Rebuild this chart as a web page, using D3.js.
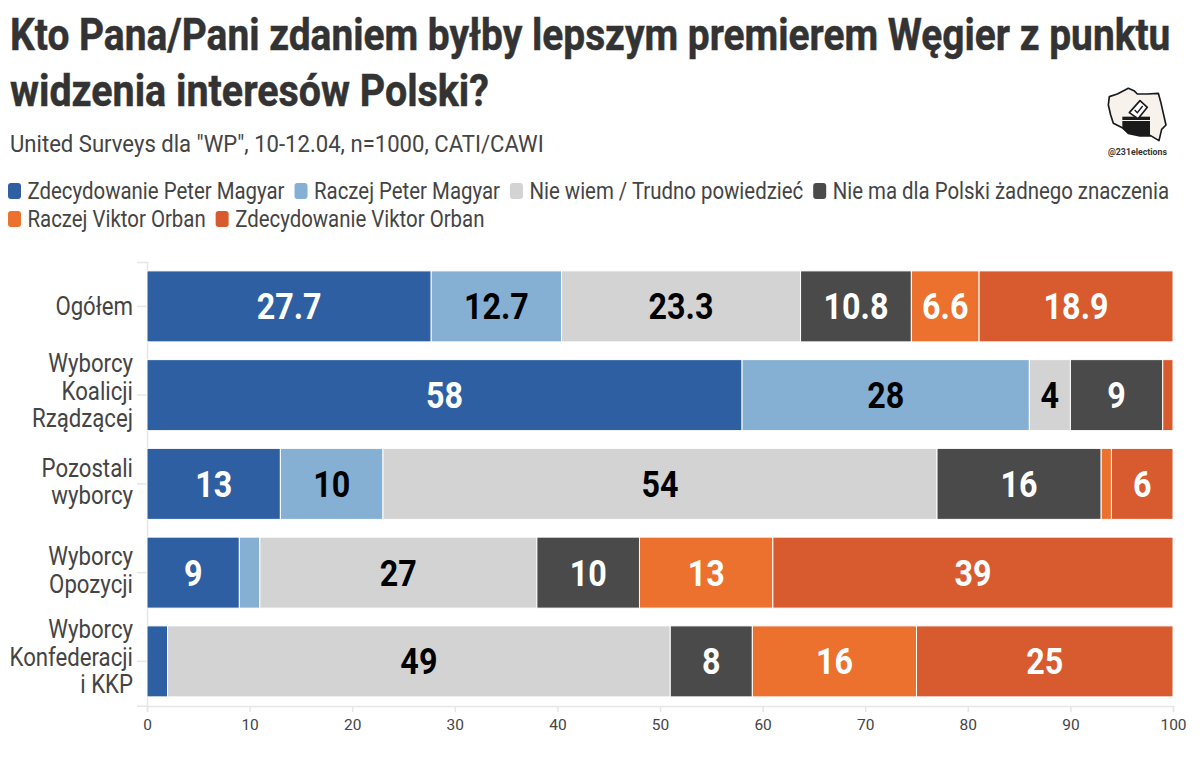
<!DOCTYPE html>
<html lang="pl"><head><meta charset="utf-8">
<script src="https://cdn.jsdelivr.net/npm/d3@7"></script>
<style>html,body{margin:0;background:#fff}svg{display:block}text{font-family:Roboto,sans-serif}</style>
</head><body><svg id="c" width="1200" height="763"></svg>
<script>
const titleLines = ["Kto Pana/Pani zdaniem byłby lepszym premierem Węgier z punktu","widzenia interesów Polski?"];
const subtitle = 'United Surveys dla "WP", 10-12.04, n=1000, CATI/CAWI';
const handle = "@231elections";
const seriesNames = ["Zdecydowanie Peter Magyar","Raczej Peter Magyar","Nie wiem / Trudno powiedzieć","Nie ma dla Polski żadnego znaczenia","Raczej Viktor Orban","Zdecydowanie Viktor Orban"];
const seriesColors = ["#2d5fa2","#85afd3","#d3d3d3","#4a4a4a","#ec702e","#d85a2f"];
const labelColors = ["#fff","#000","#000","#fff","#fff","#fff"];
const categories = ["Ogółem","Wyborcy Koalicji Rządzącej","Pozostali wyborcy","Wyborcy Opozycji","Wyborcy Konfederacji i KKP"];
const categoryLines = [["Ogółem"],["Wyborcy","Koalicji","Rządzącej"],["Pozostali","wyborcy"],["Wyborcy","Opozycji"],["Wyborcy","Konfederacji","i KKP"]];
const zdecMagyar = [27.7,58,13,9,2];
const raczejMagyar = [12.7,28,10,2,0];
const nieWiem = [23.3,4,54,27,49];
const bezZnaczenia = [10.8,9,16,10,8];
const raczejOrban = [6.6,0,1,13,16];
const zdecOrban = [18.9,1,6,39,25];
const xTicks = [0,10,20,30,40,50,60,70,80,90,100];
const minLabelled = 4;

const allSeries = [zdecMagyar,raczejMagyar,nieWiem,bezZnaczenia,raczejOrban,zdecOrban];
const rows = categories.map((c,i)=>{const r={cat:c};seriesNames.forEach((s,j)=>r[s]=allSeries[j][i]);return r;});
const svg = d3.select("#c");
const x = d3.scaleLinear().domain([0,100]).range([147,1173]);
const y = d3.scaleBand().domain(categories).range([262,705.75]).paddingInner(.2).paddingOuter(.1);
const stack = d3.stack().keys(seriesNames)(rows);

function squeezed(sel,k){
  sel.attr("transform",function(){
    const a=+this.getAttribute("data-x"),b=+this.getAttribute("data-y");
    return `translate(${a},${b}) scale(${k},1)`;
  });
}
function put(parent,str,px,py,size,weight,fill,anchor,k){
  const t=parent.append("text").text(str).attr("data-x",px).attr("data-y",py)
    .attr("font-size",size).attr("font-weight",weight).attr("fill",fill).attr("text-anchor",anchor||"start");
  squeezed(t,k); return t;
}
function fit(parent,str,px,py,size,weight,fill,width){
  const t=put(parent,str,px,py,size,weight,fill,"start",1);
  const w=t.node().getComputedTextLength();
  squeezed(t,width/w); return t;
}
fit(svg,titleLines[0],10,49.5,44,700,"#333",1161).attr("stroke","#333").attr("stroke-width",.5);
fit(svg,titleLines[1],10,105.5,44,700,"#333",479).attr("stroke","#333").attr("stroke-width",.5);
fit(svg,subtitle,10,152,24,400,"#444",534);

// legend flow
const legK=.85, legSize=24;
let lx=8, ly=199;
seriesNames.forEach((n,i)=>{
  const probe=put(svg,n,0,0,legSize,400,"#444","start",legK);
  const w=probe.node().getComputedTextLength()*legK;
  if(lx+19+w>1172){lx=8;ly+=28;}
  svg.append("rect").attr("x",lx).attr("y",ly-16).attr("width",13).attr("height",16).attr("rx",3).attr("fill",seriesColors[i]);
  probe.attr("data-x",lx+19.5).attr("data-y",ly); squeezed(probe,legK);
  lx+=19.5+w+10;
});

// axes
const xAxis = svg.append("g").attr("transform","translate(0,706)")
  .call(d3.axisBottom(x).tickValues(xTicks).tickSize(6).tickPadding(7));
xAxis.select(".domain").attr("stroke","#e6e6e6").attr("stroke-width",1.5);
xAxis.selectAll(".tick line").attr("stroke","#e6e6e6").attr("stroke-width",1.5);
xAxis.selectAll(".tick text").attr("font-size",15.5).attr("font-family","Roboto,sans-serif").attr("fill","#444");
const yAxis = svg.append("g").attr("transform","translate(147,0)")
  .call(d3.axisLeft(y).tickSize(10).tickFormat(""));
yAxis.select(".domain").attr("stroke","#e6e6e6").attr("stroke-width",1.5);
yAxis.selectAll(".tick line").attr("stroke","#e6e6e6").attr("stroke-width",1.5);
categories.forEach((c,i)=>{
  const lines=categoryLines[i], n=lines.length, cy=y(c)+y.bandwidth()/2-(n-1)*2, lh=27.5;
  lines.forEach((l,j)=>{
    put(svg,l,133,cy+(j-(n-1)/2)*lh+8.5,25,400,"#444","end",.888);
  });
});

// bars
const groups = svg.append("g").selectAll("g").data(stack).join("g").attr("fill",(d,i)=>seriesColors[i]);
groups.selectAll("rect").data(d=>d.filter(p=>p[1]>p[0])).join("rect")
  .attr("x",d=>x(d[0])).attr("y",d=>y(d.data.cat))
  .attr("width",d=>x(d[1])-x(d[0])).attr("height",y.bandwidth())
  .attr("stroke","#fff").attr("stroke-width",1);
stack.forEach((s,i)=>{
  s.forEach(d=>{
    const v=d[1]-d[0];
    if(v<minLabelled-1e-9) return;
    const label=allSeries[i][categories.indexOf(d.data.cat)];
    put(svg,String(label),x((d[0]+d[1])/2),y(d.data.cat)+y.bandwidth()/2+13,37,700,labelColors[i],"middle",.873);
  });
});

// logo
const logo=svg.append("g").attr("transform","translate(1060,70) scale(.3333)");
logo.append("path").attr("d","M148 80 L172 72 L205 55 L222 62 L232 72 L262 72 L295 70 L302 95 L310 130 L318 165 L305 178 L297 212 L272 197 L240 198 L205 190 L190 175 L160 160 L152 135 L145 105 Z")
  .attr("fill","#f7f3ec").attr("stroke","#1a1a1a").attr("stroke-width",5).attr("stroke-linejoin","round");
logo.append("path").attr("d","M187 153 L187 176 L205 190 L240 198 L270 197 L270 153 Z").attr("fill","#1a1a1a");
logo.append("path").attr("d","M187 140 L270 140 L270 150 L187 150 Z").attr("fill","#1a1a1a");
logo.append("path").attr("d","M208 128 L240 92 L262 112 L234 146 Z").attr("fill","#fff").attr("stroke","#1a1a1a").attr("stroke-width",5).attr("stroke-linejoin","round");
logo.append("path").attr("d","M224 120 L232 128 L248 108").attr("fill","none").attr("stroke","#1a1a1a").attr("stroke-width",4);
fit(svg,handle,1108,155,9.5,700,"#333",59);
</script></body></html>
